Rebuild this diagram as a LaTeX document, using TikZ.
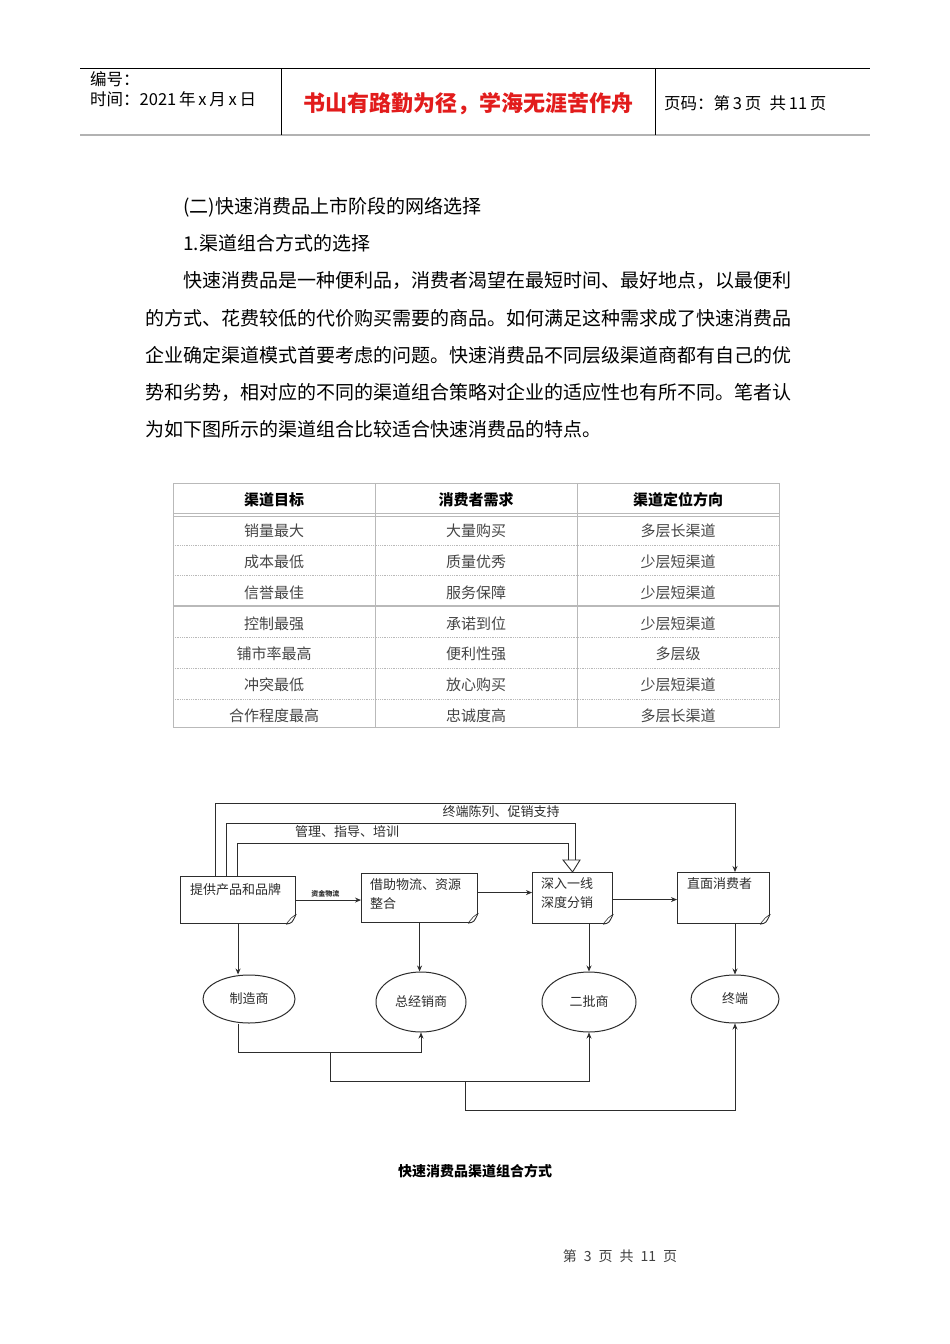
\documentclass[tikz,border=0pt]{standalone}
\usepackage{fontspec}
\setmainfont{Noto Sans CJK SC}
\usetikzlibrary{arrows.meta,positioning,shapes.geometric,calc}
\definecolor{titelrot}{RGB}{226,28,28}
\definecolor{tinte}{RGB}{45,45,45}

\begin{document}
\begin{tikzpicture}[
    x=1pt, y=-1pt,
    >={Stealth[length=6pt,width=5pt]},
    kopf/.style={
        anchor=west,
        inner sep=0pt,
        font=\fontsize{16.5}{16.5}\selectfont
    },
    zeile/.style={
        anchor=west,
        inner sep=0pt,
        font=\fontsize{19}{19}\selectfont
    },
    zelle/.style={
        inner sep=0pt,
        text=gray!55!black,
        font=\fontsize{15}{15}\selectfont
    },
    spalte/.style={
        inner sep=0pt,
        font=\fontsize{15}{15}\selectfont\bfseries
    },
    raster/.style={
        draw=gray!55,
        line width=0.8pt
    },
    kasten/.style={
        draw=tinte,
        line width=1.1pt,
        fill=white,
        anchor=north west,
        inner sep=0pt
    },
    kastentext/.style={
        anchor=north west,
        align=left,
        inner sep=0pt,
        text=tinte,
        font=\fontsize{13}{19}\selectfont
    },
    oval/.style={
        ellipse,
        draw=tinte,
        line width=1pt,
        inner sep=0pt,
        text=tinte,
        font=\fontsize{13}{13}\selectfont
    },
    linie/.style={
        draw=tinte,
        line width=0.9pt
    },
    pfeil/.style={
        linie,
        ->
    },
    beschrift/.style={
        inner sep=0pt,
        text=tinte,
        font=\fontsize{13}{13}\selectfont
    }
]

\fill[white] (0,0) rectangle (950,1344);
\useasboundingbox (0,0) rectangle (950,1344);

% Page header
\draw[line width=0.8pt] (80,68) -- (870,68);
\draw[gray!60, line width=2pt] (80,135) -- (870,135);
\draw[line width=0.6pt] (281,68) -- (281,135);
\draw[line width=0.6pt] (655,68) -- (655,135);
\node[kopf] (nummer) at (90,79) {编号：};
\node[kopf] (datum) at (90,99) {时间：2021\,年\,x\,月\,x\,日};
\node[inner sep=0pt, text=titelrot, font=\fontsize{22}{22}\selectfont\bfseries] (titel) at (468,104)
    {书山有路勤为径，学海无涯苦作舟};
\node[kopf] (seite) at (664,103) {页码：第\,3\,页\enspace 共\,11\,页};

% Body text
\node[zeile] (z1) at (183,207) {(二)快速消费品上市阶段的网络选择};
\node[zeile] (z2) at (183,243) {1.渠道组合方式的选择};
\node[zeile] (z3) at (183,281) {快速消费品是一种便利品，消费者渴望在最短时间、最好地点，以最便利};
\node[zeile] (z4) at (145,318) {的方式、花费较低的代价购买需要的商品。如何满足这种需求成了快速消费品};
\node[zeile] (z5) at (145,355) {企业确定渠道模式首要考虑的问题。快速消费品不同层级渠道商都有自己的优};
\node[zeile] (z6) at (145,392) {势和劣势，相对应的不同的渠道组合策略对企业的适应性也有所不同。笔者认};
\node[zeile] (z7) at (145,429) {为如下图所示的渠道组合比较适合快速消费品的特点。};

% Table
\draw[raster] (173,483) rectangle (779,727);
\draw[raster] (375,483) -- (375,727);
\draw[raster] (577,483) -- (577,727);
\draw[raster] (173,513) -- (779,513);
\draw[raster] (173,516) -- (779,516);
\foreach \y in {545,575,637,668,699}
    \draw[raster, densely dotted] (173,\y) -- (779,\y);
\draw[raster, line width=1.4pt] (173,606) -- (779,606);

\node[spalte] (ziel) at (274,500) {渠道目标};
\node[spalte] (bedarf) at (476,500) {消费者需求};
\node[spalte] (richtung) at (678,500) {渠道定位方向};

\foreach \a/\b/\c [count=\i] in {
    销量最大/大量购买/多层长渠道,
    成本最低/质量优秀/少层短渠道,
    信誉最佳/服务保障/少层短渠道,
    控制最强/承诺到位/少层短渠道,
    铺市率最高/便利性强/多层级,
    冲突最低/放心购买/少层短渠道,
    合作程度最高/忠诚度高/多层长渠道}
{
    \node[zelle] (za\i) at (274,{531+30.8*(\i-1)}) {\a};
    \node[zelle] (zb\i) at (476,{531+30.8*(\i-1)}) {\b};
    \node[zelle] (zc\i) at (678,{531+30.8*(\i-1)}) {\c};
}

% Channel boxes
\node[kasten, minimum width=115, minimum height=47,
      label={[kastentext, xshift=10pt, yshift=-7pt]north west:提供产品和品牌}]
    (prod) at (180,876) {};
\node[kasten, minimum width=116, minimum height=49,
      label={[kastentext, xshift=9pt, yshift=-5pt]north west:借助物流、资源\\整合}]
    (logist) at (361,873) {};
\node[kasten, minimum width=80, minimum height=51,
      label={[kastentext, xshift=9pt, yshift=-5pt]north west:深入一线\\深度分销}]
    (tief) at (532,872) {};
\node[kasten, minimum width=92, minimum height=51,
      label={[kastentext, xshift=10pt, yshift=-5pt]north west:直面消费者}]
    (direkt) at (677,872) {};

% Folded corners
\foreach \k in {prod,logist,tief,direkt} {
    \fill[white] ($(\k.south east)+(-10,1.5)$) -- ($(\k.south east)+(1.5,1.5)$)
        -- ($(\k.south east)+(1.5,-10)$) -- cycle;
    \draw[linie] ($(\k.south east)+(-10,0)$) .. controls ($(\k.south east)+(-4,-1)$) .. ($(\k.south east)+(0,-10)$);
    \draw[linie, line width=0.6pt] ($(\k.south east)+(-10,0)$) -- ($(\k.south east)+(-5,-6)$)
        -- ($(\k.south east)+(0,-10)$);
}

% Channel members
\node[oval, minimum width=92, minimum height=48] (hersteller) at (249,999) {制造商};
\node[oval, minimum width=90, minimum height=60] (general) at (421,1002) {总经销商};
\node[oval, minimum width=94, minimum height=60] (zweit) at (589,1002) {二批商};
\node[oval, minimum width=88, minimum height=48] (terminal) at (735,999) {终端};

% Flow between boxes
\draw[pfeil] (prod.east) -- (prod.east -| logist.west)
    node[pos=0.45, above=2pt, beschrift, font=\fontsize{7}{7}\selectfont\bfseries] (geld) {资金物流};
\draw[pfeil] ([yshift=5.5pt]logist.east) -- ([yshift=5.5pt]logist.east -| tief.west);
\draw[pfeil] ([yshift=-1.5pt]tief.east) -- ([yshift=-1.5pt]tief.east -| direkt.west);

% Boxes down to members
\draw[pfeil] (prod.south) -- (prod.south |- hersteller.north);
\draw[pfeil] (logist.south) -- (logist.south |- general.north);
\draw[pfeil] (zweit.north |- tief.south) -- (zweit.north);
\draw[pfeil] (terminal.north |- direkt.south) -- (terminal.north);

% Support lines from the manufacturer
\coordinate (o1) at (215,803);
\coordinate (o2) at (226,823);
\coordinate (o3) at (237,843);
\coordinate (s2) at (575,860);
\coordinate (s3) at (568,860);
\draw[pfeil] (prod.north -| o1) |- (terminal.north |- o1) -- (terminal.north |- direkt.north);
\draw[linie] (prod.north -| o2) |- (s2 |- o2) -- (s2);
\draw[linie] (prod.north -| o3) |- (s3 |- o3) -- (s3);
\draw[linie, fill=white] ($(s3)+(-5,0)$) -- ($(s2)+(5,0)$) -- (tief.north) -- cycle;
\node[beschrift] (display) at (501,812) {终端陈列、促销支持};
\node[beschrift] (schulung) at (347,832) {管理、指导、培训};

% Members back along the chain
\coordinate (u1) at (330,1052);
\coordinate (u2) at (465,1081);
\coordinate (u3) at (0,1110);
\draw[pfeil] (prod.south |- hersteller.south) |- (general.south |- u1) -- (general.south);
\draw[pfeil] (u1) |- (zweit.south |- u2) -- (zweit.south);
\draw[pfeil] (u2) |- (terminal.south |- u3) -- (terminal.south);

% Caption and footer
\node[inner sep=0pt, font=\fontsize{14}{14}\selectfont\bfseries] (bild) at (475,1171) {快速消费品渠道组合方式};
\node[inner sep=0pt, text=gray!50!black, font=\fontsize{14}{14}\selectfont] (fuss) at (620,1256)
    {第\enspace 3\enspace 页\enspace 共\enspace 11\enspace 页};

\end{tikzpicture}
\end{document}
